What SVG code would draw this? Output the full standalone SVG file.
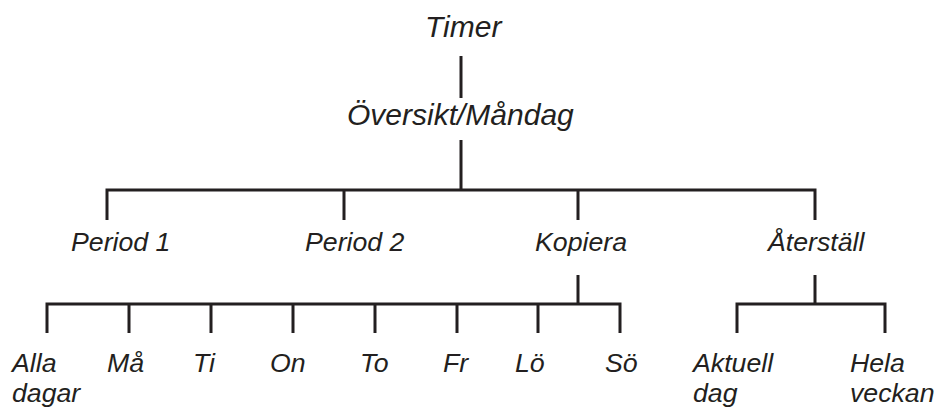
<svg xmlns="http://www.w3.org/2000/svg" width="939" height="408" viewBox="0 0 939 408">
<style>
text{font-family:"Liberation Sans",Arial,sans-serif;font-style:italic;fill:#231f20;font-size:26.7px}
.top{font-size:30px}
.ln{stroke:#231f20;stroke-width:3;fill:none;stroke-linecap:butt}
</style>
<rect width="939" height="408" fill="#fff"/>
<g id="connectors" class="ln">
<path d="M461,56V98"/>
<path d="M461,140V190M107,220V190H815V220M344,190V220M578,190V220"/>
<path d="M578,275V304M47,333V304H620V333M129,304V333M211,304V333M293,304V333M375,304V333M457,304V333M538,304V333"/>
<path d="M815,275V304M737,333V304H885V333"/>
</g>
<g id="n-timer"><text class="top" x="425" y="37">Timer</text></g>
<g id="n-oversikt"><text class="top" x="347" y="125">Översikt/Måndag</text></g>
<g id="n-period1"><text x="71" y="251">Period 1</text></g>
<g id="n-period2"><text x="305" y="251">Period 2</text></g>
<g id="n-kopiera"><text x="535" y="251">Kopiera</text></g>
<g id="n-aterstall"><text x="768" y="251">Återställ</text></g>
<g id="n-alla"><text x="12" y="372">Alla<tspan x="12" y="402">dagar</tspan></text></g>
<g id="n-ma"><text x="107" y="372">Må</text></g>
<g id="n-ti"><text x="193" y="372">Ti</text></g>
<g id="n-on"><text x="270" y="372">On</text></g>
<g id="n-to"><text x="360" y="372">To</text></g>
<g id="n-fr"><text x="443" y="372">Fr</text></g>
<g id="n-lo"><text x="515" y="372">Lö</text></g>
<g id="n-so"><text x="605" y="372">Sö</text></g>
<g id="n-aktuell"><text x="693" y="372">Aktuell<tspan x="693" y="402">dag</tspan></text></g>
<g id="n-hela"><text x="850" y="372">Hela<tspan x="850" y="402">veckan</tspan></text></g>
</svg>
